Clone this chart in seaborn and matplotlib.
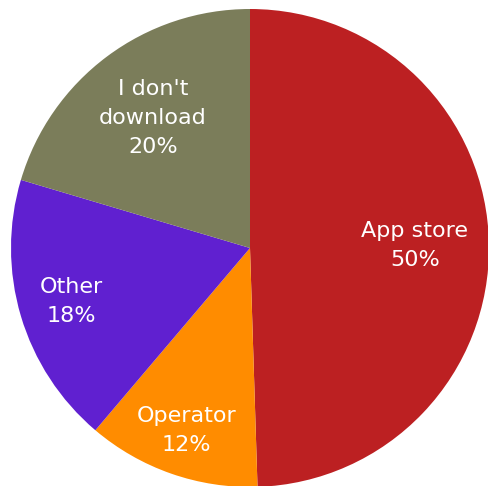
import numpy as np
import matplotlib
matplotlib.use("Agg")
import matplotlib.pyplot as plt
import seaborn as sns

categories = ["App store", "Operator", "Other", "I don't\ndownload"]
values = [49.5, 11.7, 18.4, 20.4]
pct_labels = ["50%", "12%", "18%", "20%"]
colors = ["#BC2022", "#FF8C00", "#6020D0", "#7B7D5A"]

sns.set_theme(style="white")
plt.rcParams['font.family'] = ['DejaVu Sans']

fig = plt.figure(figsize=(4.89, 4.86), dpi=100)
ax = fig.add_axes([0, 0, 1, 1])

cx, cy, r = 250, 238, 239
wedges, _ = ax.pie(values, colors=colors, startangle=90, counterclock=False,
                   center=(cx, cy), radius=r, frame=True,
                   wedgeprops=dict(linewidth=0))
ax.set_xlim(0, 489)
ax.set_ylim(0, 486)
ax.set_aspect('equal')
ax.axis('off')

dists = [0.69, 0.81, 0.78, 0.68]
for w, cat, pct, d in zip(wedges, categories, pct_labels, dists):
    ang = np.deg2rad((w.theta1 + w.theta2) / 2)
    x = cx + d * r * np.cos(ang)
    y = cy + d * r * np.sin(ang)
    ax.text(x, y, f"{cat}\n{pct}", ha='center', va='center', color='white',
            fontsize=16, linespacing=1.55)

fig.savefig("out.png", dpi=100)
